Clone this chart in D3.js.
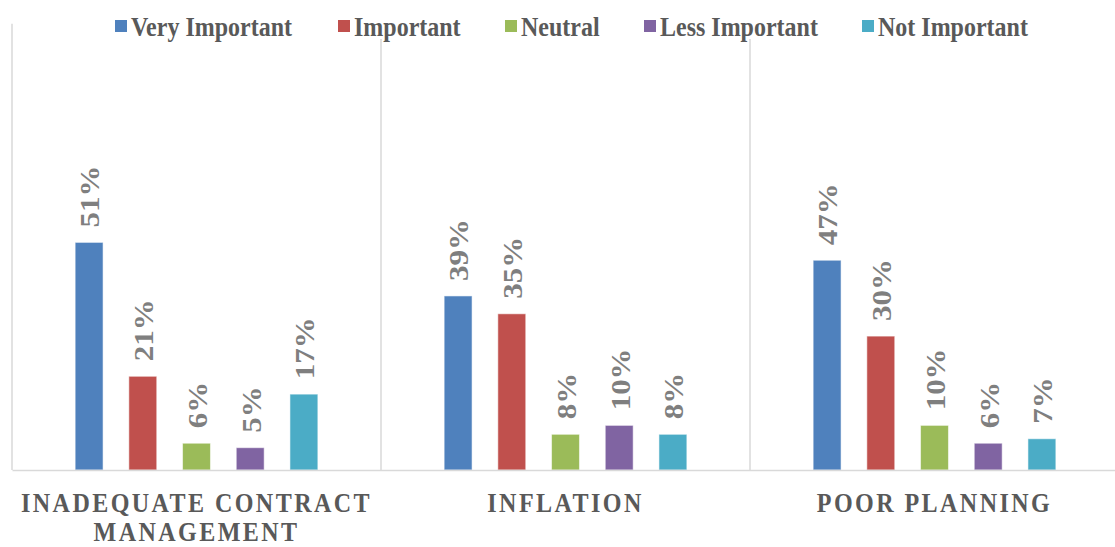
<!DOCTYPE html>
<html>
<head>
<meta charset="utf-8">
<script src="https://cdn.jsdelivr.net/npm/d3@7"></script>
<style>
  html, body { margin: 0; padding: 0; background: #fff; }
  svg { display: block; }
</style>
</head>
<body>
<svg id="chart" width="1115" height="547"></svg>
<script>
// Survey: importance rating of cost-overrun factors (% of respondents)
const categories = ["INADEQUATE CONTRACT MANAGEMENT", "INFLATION", "POOR PLANNING"];
const series = ["Very Important", "Important", "Neutral", "Less Important", "Not Important"];
const colors = ["#4F81BD", "#C0504D", "#9BBB59", "#8064A2", "#4BACC6"];
const veryImportant = [51, 39, 47];
const important = [21, 35, 30];
const neutral = [6, 8, 10];
const lessImportant = [5, 10, 6];
const notImportant = [17, 8, 7];
const yDomain = [0, 100];

const FONT = "'Liberation Serif', 'Times New Roman', Tinos, serif";

const valuesBySeries = [veryImportant, important, neutral, lessImportant, notImportant];
const rows = categories.map((c, i) => ({
  category: c,
  values: series.map((s, j) => ({ series: s, value: valuesBySeries[j][i], color: colors[j] }))
}));

const svg = d3.select("#chart");
const plot = { left: 12, right: 1119, top: 23.7, bottom: 470 };

const x0 = d3.scaleBand().domain(categories).range([plot.left, plot.right]).padding(0);
const groupSpan = 268.5;
const x1 = d3.scaleBand().domain(series)
  .range([-groupSpan / 2, groupSpan / 2])
  .paddingInner(0.48).paddingOuter(0.24);
const y = d3.scaleLinear().domain(yDomain).range([plot.bottom, plot.top]);

// category separators
svg.append("g").selectAll("line").data(categories).join("line")
  .attr("x1", d => x0(d)).attr("x2", d => x0(d))
  .attr("y1", y(yDomain[1])).attr("y2", y(0))
  .attr("stroke", "#D9D9D9").attr("stroke-width", 1.5);

// bars
const groups = svg.append("g").selectAll("g").data(rows).join("g")
  .attr("transform", d => `translate(${x0(d.category) + x0.bandwidth() / 2},0)`);

groups.selectAll("rect").data(d => d.values).join("rect")
  .attr("x", d => x1(d.series))
  .attr("width", x1.bandwidth())
  .attr("y", d => y(d.value))
  .attr("height", d => y(0) - y(d.value))
  .attr("fill", d => d.color)
  .attr("stroke", "rgba(255,255,255,0.55)")
  .attr("stroke-width", 1);

// rotated value labels
groups.selectAll("text.value").data(d => d.values).join("text")
  .attr("class", "value")
  .attr("transform", d => `translate(${x1(d.series) + x1.bandwidth() / 2 + 1},${y(d.value) - 15}) scale(0.86,1) rotate(-90)`)
  .attr("dy", "0.35em")
  .attr("text-anchor", "start")
  .attr("font-family", FONT)
  .attr("font-weight", 700)
  .attr("font-size", 31)
  .attr("fill", "#7F7F7F")
  .text(d => d.value + "%");

// baseline axis
const xAxis = svg.append("g").attr("transform", `translate(0,${y(0)})`)
  .call(d3.axisBottom(x0).tickSize(0).tickFormat(""));
xAxis.select(".domain").attr("stroke", "#D9D9D9").attr("stroke-width", 1.5);

// category labels (wrapped)
const catLines = {
  "INADEQUATE CONTRACT MANAGEMENT": ["INADEQUATE CONTRACT", "MANAGEMENT"]
};
categories.forEach(c => {
  const lines = catLines[c] || [c];
  const cx = x0(c) + x0.bandwidth() / 2;
  const t = svg.append("text")
    .attr("transform", `translate(${cx},${y(0) + 42}) scale(0.86,1)`)
    .attr("text-anchor", "middle")
    .attr("font-family", FONT)
    .attr("font-weight", 700)
    .attr("font-size", 28)
    .attr("letter-spacing", 2.8)
    .attr("fill", "#595959");
  lines.forEach((ln, i) => {
    t.append("tspan").attr("x", 0).attr("dy", i === 0 ? 0 : 29).text(ln);
  });
});

// legend
const legendX = [115, 338, 505, 644, 862];
const legend = svg.append("g");
legend.append("rect").attr("x", 105).attr("y", 8).attr("width", 935).attr("height", 31).attr("fill", "#fff");
series.forEach((s, i) => {
  const g = legend.append("g").attr("transform", `translate(${legendX[i]},0)`);
  g.append("rect").attr("x", 0).attr("y", 20).attr("width", 12).attr("height", 12).attr("fill", colors[i]);
  g.append("text")
    .attr("transform", `translate(16,36) scale(0.857,1)`)
    .attr("font-family", FONT)
    .attr("font-weight", 700)
    .attr("font-size", 28)
    .attr("fill", "#595959")
    .text(s);
});
</script>
</body>
</html>
